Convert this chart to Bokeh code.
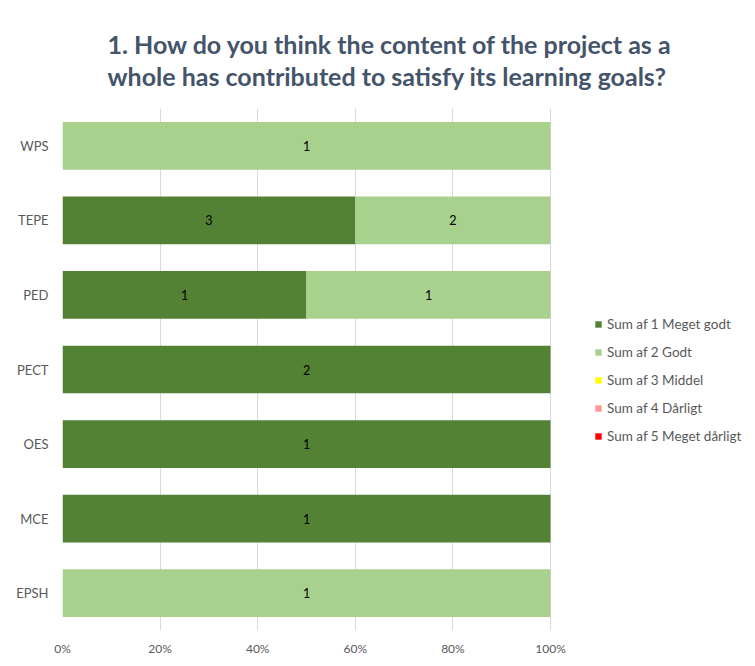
from bokeh.plotting import figure
from bokeh.models import (ColumnDataSource, FactorRange, Range1d, NumeralTickFormatter,
                          Legend, LegendItem, Title, FixedTicker, LabelSet)
from bokeh.embed import file_html
from bokeh.resources import INLINE
from bokeh.core.properties import value

categories = ["EPSH", "MCE", "OES", "PECT", "PED", "TEPE", "WPS"]
meget_godt = [0, 1, 1, 2, 1, 3, 0]
godt = [1, 0, 0, 0, 1, 2, 1]
middel = [0, 0, 0, 0, 0, 0, 0]
daarligt = [0, 0, 0, 0, 0, 0, 0]
meget_daarligt = [0, 0, 0, 0, 0, 0, 0]
series_names = ["Sum af 1 Meget godt", "Sum af 2 Godt", "Sum af 3 Middel",
                "Sum af 4 Dårligt", "Sum af 5 Meget dårligt"]
colors = ["#548235", "#A9D18E", "#FFFF00", "#FF9999", "#FF0000"]
x_ticks = [0, 0.2, 0.4, 0.6, 0.8, 1.0]
title_text = ("1. How do you think the content of the project as a\n"
              "whole has contributed to satisfy its learning goals?")

FONT = "Lato"
TEXT = "#595959"
GRID = "#D9D9D9"

counts = [meget_godt, godt, middel, daarligt, meget_daarligt]
keys = ["s1", "s2", "s3", "s4", "s5"]
totals = [sum(c[i] for c in counts) for i in range(len(categories))]
data = {"cat": categories}
for k, c in zip(keys, counts):
    data[k] = [v / t for v, t in zip(c, totals)]
source = ColumnDataSource(data)

# frame extends into the legend area; the bars occupy 0..1 (488 px of 685 px)
p = figure(width=747, height=658, y_range=FactorRange(*categories),
           x_range=Range1d(0, 685 / 488), output_backend="svg", toolbar_location=None,
           min_border_left=62, min_border_right=0, min_border_top=108,
           min_border_bottom=25)
p.outline_line_color = None
p.background_fill_color = "white"
p.border_fill_color = "white"

rs = p.hbar_stack(keys, y="cat", height=0.64, color=colors, line_color=None,
                  source=source)

# segment labels
lx, ly, lt = [], [], []
for i, cat in enumerate(categories):
    left = 0.0
    for c in counts:
        v = c[i]
        share = v / totals[i]
        if v > 0:
            lx.append(left + share / 2)
            ly.append(cat)
            lt.append(str(v))
        left += share
lab_src = ColumnDataSource(dict(x=lx, y=ly, t=lt))
p.add_layout(LabelSet(x="x", y="y", text="t", source=lab_src, text_align="center",
                      text_baseline="middle", text_font=value(FONT),
                      text_font_size="12.5px", text_color="black"))

for ax in (p.xaxis, p.yaxis):
    ax.axis_line_color = None
    ax.major_tick_line_color = None
    ax.minor_tick_line_color = None
    ax.major_tick_out = 0
    ax.major_tick_in = 0
    ax.minor_tick_out = 0
    ax.minor_tick_in = 0
    ax.axis_label = None
    ax.major_label_text_font = FONT
    ax.major_label_text_color = TEXT

p.xaxis.ticker = FixedTicker(ticks=x_ticks)
p.xaxis.formatter = NumeralTickFormatter(format="0%")
p.xaxis.major_label_text_font_size = "12px"
p.xaxis.major_label_standoff = 10

p.yaxis.major_label_text_font_size = "13px"
p.yaxis.major_label_standoff = 14

p.xgrid.grid_line_color = GRID
p.xgrid.ticker = FixedTicker(ticks=x_ticks)
p.ygrid.grid_line_color = None

items = [LegendItem(label=n, renderers=[r]) for n, r in zip(series_names, rs)]
legend = Legend(items=items, location=(532, 184), orientation="vertical",
                glyph_width=8, glyph_height=8, label_height=20, spacing=8,
                label_standoff=5, padding=0, margin=0, border_line_color=None,
                background_fill_alpha=0, label_text_font=FONT,
                label_text_font_size="13.5px", label_text_color=TEXT)
p.add_layout(legend, "center")

title = Title(text=title_text, align="left", offset=45, vertical_align="bottom",
              standoff=34, text_font=FONT, text_font_style="bold",
              text_font_size="25px", text_color="#44546A", text_line_height=1.08)
p.add_layout(title, "above")

open("out.html", "w").write(file_html(p, INLINE))
